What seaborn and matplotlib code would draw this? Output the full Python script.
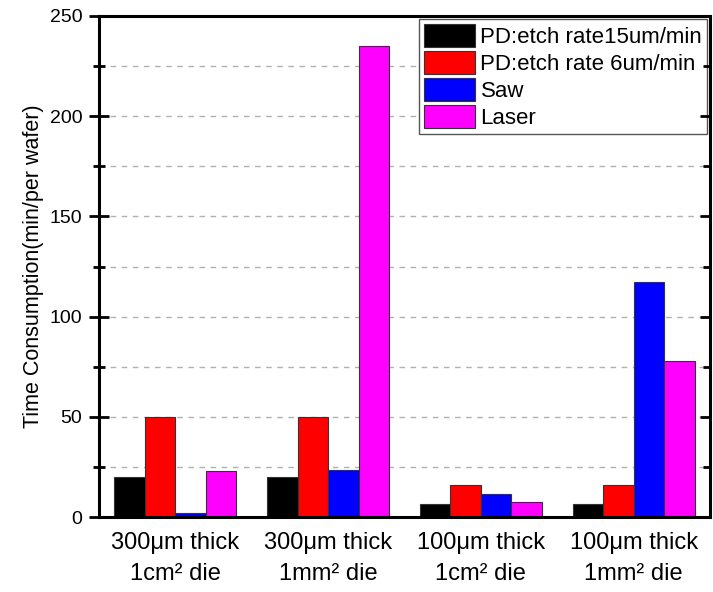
import matplotlib
matplotlib.use("Agg")
import matplotlib.pyplot as plt
import seaborn as sns
import pandas as pd
from matplotlib.ticker import MultipleLocator

categories = ["300μm thick\n1cm² die", "300μm thick\n1mm² die",
              "100μm thick\n1cm² die", "100μm thick\n1mm² die"]
series = ["PD:etch rate15um/min", "PD:etch rate 6um/min", "Saw", "Laser"]
etch15 = [20, 20, 6.5, 6.5]
etch6 = [50, 50, 16, 16]
saw = [2, 23.5, 11.5, 117.5]
laser = [23, 235, 7.5, 78]
colors = ["#000000", "#FF0000", "#0000FF", "#FF00FF"]

rows = []
for s, vals in zip(series, [etch15, etch6, saw, laser]):
    for c, v in zip(categories, vals):
        rows.append({"cat": c, "series": s, "value": v})
df = pd.DataFrame(rows)

sns.set_theme(style="white")
plt.rcParams['font.family'] = ['Liberation Sans', 'DejaVu Sans']
plt.rcParams.update({"text.color": "black", "axes.labelcolor": "black",
                     "xtick.color": "black", "ytick.color": "black"})

fig = plt.figure(figsize=(7.13, 5.92), dpi=100)
ax = fig.add_axes([99/713, 1-517/592, (710-99)/713, (517-16)/592])

sns.barplot(data=df, x="cat", y="value", hue="series", order=categories,
            hue_order=series, palette=colors, width=0.8, saturation=1,
            edgecolor="#333333", linewidth=0.8, ax=ax, legend=True)

ax.set_xlim(-0.5, 3.5)
ax.set_ylim(0, 250)
ax.yaxis.set_major_locator(MultipleLocator(50))
ax.yaxis.set_minor_locator(MultipleLocator(25))
ax.set_axisbelow(True)
ax.grid(True, which="both", axis="y", linestyle=(0, (4, 4)), color="#b0b0b0", linewidth=1)
ax.grid(False, axis="x")

for sp in ax.spines.values():
    sp.set_visible(True)
    sp.set_color("black")
    sp.set_linewidth(2.2)

ax.tick_params(axis="y", which="major", direction="inout", length=14, width=2,
               labelsize=14, color="black", left=True, right=False, pad=5)
ax.tick_params(axis="y", which="minor", direction="inout", length=8, width=2,
               color="black", left=True, right=False)
ax.tick_params(axis="x", which="both", bottom=False, top=False, labelsize=17, pad=5)
for lab in ax.get_xticklabels():
    lab.set_linespacing(1.5)

# inward ticks on the right spine
ax2 = ax.twinx()
ax2.set_ylim(ax.get_ylim())
ax2.yaxis.set_major_locator(MultipleLocator(50))
ax2.yaxis.set_minor_locator(MultipleLocator(25))
ax2.tick_params(axis="y", which="major", direction="in", length=7, width=2,
                labelright=False, right=True, color="black")
ax2.tick_params(axis="y", which="minor", direction="in", length=5, width=2,
                labelright=False, right=True, color="black")
ax2.grid(False)
for sp in ax2.spines.values():
    sp.set_visible(False)

ax.set_xlabel("")
ax.set_ylabel("Time Consumption(min/per wafer)", fontsize=15.5, labelpad=4)

handles, labels = ax.get_legend_handles_labels()
leg = ax.legend(handles, labels, loc="upper right", fontsize=16, frameon=True,
                fancybox=False, edgecolor="#555555", framealpha=1,
                handlelength=2.3, handleheight=1.2, handletextpad=0.25,
                labelspacing=0.15, borderpad=0.2, borderaxespad=0.15)
leg.get_frame().set_linewidth(1)
leg.set_zorder(5)

fig.savefig("out.png", dpi=100)
